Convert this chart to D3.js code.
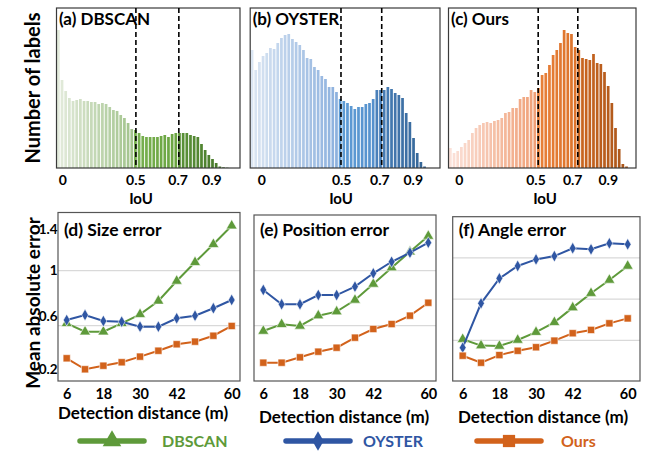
<!DOCTYPE html>
<html><head><meta charset="utf-8">
<script src="https://cdn.jsdelivr.net/npm/d3@7"></script>
<style>
body{margin:0;background:#fff}
svg{display:block}
text{font-family:Lato,"Open Sans",sans-serif;font-weight:bold;fill:#000}
</style>
</head><body>
<svg id="chart" width="652" height="453"></svg>
<script>
// ---------------- DATA ----------------
const binCount = 50;
const countsDBSCAN = [138,88,77,70,67,68,69,67,67,66,66,64,65,64,61,58,57,53,50,45,39,38,35,32,31,31,31,31,32,33,31,34,35,35,35,35,33,32,31,24,18,13,9,5,1.5,0.7,0.3,0,0,0];
const countsOYSTER = [118,98,106,112,115,120,119,125,130,133,134,129,126,123,118,110,109,101,98,92,89,81,81,76,69,67,65,62,59,61,61,64,65,69,78,78,78,81,79,75,73,70,55,46,30,15,6,1.5,0,0];
const countsOurs   = [20,15,17,21,25,28,35,40,43,45,46,45,47,48,50,55,56,60,60,69,71,71,78,76,80,93,95,103,113,118,125,138,135,134,121,118,110,109,108,114,105,104,96,82,65,40,19,4,1.5,0];
const iouTickLabels = ["0","0.5","0.7","0.9"];
// tick label and threshold positions, in bin units
const iouTickBinsA = [1.6,21.5,33.0,42.2];
const iouTickBinsB = [3.0,24.8,35.2,44.3];
const iouTickBinsC = [2.8,23.7,33.7,43.4];
const thresholdBinsA = [21.5,33.2];
const thresholdBinsB = [24.6,35.7];
const thresholdBinsC = [24.3,35.1];

const distances = [6,12,18,24,30,36,42,48,54,60];
const distanceTicks = [6,18,30,42,60];
const sizeDBSCAN = [0.617,0.556,0.556,0.617,0.683,0.780,0.925,1.061,1.192,1.327];
const sizeOYSTER = [0.641,0.678,0.634,0.629,0.593,0.593,0.654,0.673,0.727,0.787];
const sizeOurs   = [0.363,0.283,0.309,0.334,0.375,0.418,0.465,0.484,0.527,0.598];
const posDBSCAN  = [0.561,0.610,0.598,0.673,0.702,0.787,0.903,1.022,1.138,1.252];
const posOYSTER  = [0.860,0.756,0.756,0.823,0.823,0.884,0.981,1.065,1.131,1.204];
const posOurs    = [0.331,0.331,0.370,0.411,0.440,0.513,0.576,0.612,0.673,0.767];
const angleDBSCAN = [2.06,1.75,1.73,2.02,2.40,2.88,3.59,4.29,4.93,5.61];
const angleOYSTER = [1.65,3.80,5.01,5.61,5.93,6.09,6.47,6.42,6.71,6.66];
const angleOurs   = [1.26,0.92,1.29,1.50,1.67,1.99,2.35,2.51,2.83,3.07];
const maeTicks = [0.2,0.6,1,1.4];
const maeGrid = [0.6,1];
const angleGrid = [2,4,6];
const methods = ["DBSCAN","OYSTER","Ours"];

// ---------------- DRAW ----------------
const svg = d3.select("#chart");
svg.append("rect").attr("width",652).attr("height",453).attr("fill","#fff");

const colGreen = "#5e9a3a", colBlue = "#2f56a3", colOrange = "#d2621b";
const FONT = "Lato,'Open Sans',sans-serif";

function histPanel(cfg){
  const g = svg.append("g");
  const pitch = 3.67;
  const x = d3.scaleLinear().domain([0,binCount]).range([cfg.left, cfg.left + binCount*pitch]);
  const y = d3.scaleLinear().domain([0,160]).range([168,8]);
  const color = i => i < cfg.b1 ? d3.interpolateRgb(cfg.c[0],cfg.c[1])(i/(cfg.b1-1))
                  : i < cfg.b2 ? d3.interpolateRgb(cfg.c[2],cfg.c[3])((i-cfg.b1)/(cfg.b2-cfg.b1))
                  : d3.interpolateRgb(cfg.c[4],cfg.c[5])((i-cfg.b2)/(binCount-cfg.b2));
  g.selectAll("rect.bar").data(cfg.data).join("rect").attr("class","bar")
    .attr("x",(d,i)=>x(i)).attr("width",pitch*0.74)
    .attr("y",d=>y(d)).attr("height",d=>y(0)-y(d))
    .attr("fill",(d,i)=>color(i));
  g.append("rect").attr("x",cfg.left-0.5).attr("y",y(160)).attr("width",cfg.right-cfg.left+0.5)
    .attr("height",y(0)-y(160)).attr("fill","none").attr("stroke","#3a3a3a").attr("stroke-width",1.2);
  g.selectAll("line.th").data(cfg.th).join("line").attr("class","th")
    .attr("x1",d=>x(d)).attr("x2",d=>x(d)).attr("y1",y(160)).attr("y2",y(0))
    .attr("stroke","#000").attr("stroke-width",1.6).attr("stroke-dasharray","5,3");
  g.selectAll("text.tk").data(iouTickLabels).join("text").attr("class","tk")
    .attr("x",(d,i)=>x(cfg.ticks[i])).attr("y",185).attr("text-anchor","middle")
    .attr("font-size",14).text(d=>d);
  g.append("text").attr("x",cfg.labelX).attr("y",204).attr("text-anchor","middle")
    .attr("font-size",15).text("IoU");
  g.append("text").attr("x",cfg.left+2).attr("y",25).attr("font-size",17).text(cfg.title);
}

histPanel({left:57,right:240,data:countsDBSCAN,ticks:iouTickBinsA,th:thresholdBinsA,title:"(a) DBSCAN",labelX:141,
  b1:21,b2:33,c:["#e3ebdc","#a3c48d","#77b04f","#6aa440","#5b9238","#3f6c25"]});
histPanel({left:250.7,right:440,data:countsOYSTER,ticks:iouTickBinsB,th:thresholdBinsB,title:"(b) OYSTER",labelX:341,
  b1:24,b2:34,c:["#dbe6f3","#8db1de","#5f9dd6","#5590cc","#4a80ba","#2f5e8d"]});
histPanel({left:449,right:636,data:countsOurs,ticks:iouTickBinsC,th:thresholdBinsC,title:"(c) Ours",labelX:545,
  b1:24,b2:35,c:["#fbe2da","#f0a077","#e8803a","#dc7229","#cb661f","#a4531a"]});

function linePanel(cfg){
  const g = svg.append("g");
  const x = d3.scaleLinear().domain([6,60]).range([cfg.x0, cfg.x0+165]);
  const y = cfg.y;
  g.selectAll("line.gr").data(cfg.grid).join("line").attr("class","gr")
    .attr("x1",cfg.left).attr("x2",cfg.right).attr("y1",d=>y(d)).attr("y2",d=>y(d))
    .attr("stroke","#d9d9d9").attr("stroke-width",1.2);
  g.append("rect").attr("x",cfg.left).attr("y",cfg.top).attr("width",cfg.right-cfg.left)
    .attr("height",381-cfg.top).attr("fill","none").attr("stroke","#555").attr("stroke-width",1.2);
  const series = [
    {vals:cfg.s[0],col:colGreen,sym:d3.symbolTriangle,size:52},
    {vals:cfg.s[1],col:colBlue,sym:d3.symbolDiamond,size:40},
    {vals:cfg.s[2],col:colOrange,sym:d3.symbolSquare,size:52}
  ];
  const line = d3.line().x((d,i)=>x(distances[i])).y(d=>y(d));
  series.forEach(s=>{
    g.append("path").attr("d",line(s.vals)).attr("fill","none").attr("stroke",s.col).attr("stroke-width",2);
    g.selectAll(null).data(s.vals).join("path")
      .attr("transform",(d,i)=>`translate(${x(distances[i])},${y(d)})`)
      .attr("d",d3.symbol().type(s.sym).size(s.size)).attr("fill",s.col)
      .attr("stroke","#fff").attr("stroke-width",0.6);
  });
  const ax = g.append("g").attr("transform","translate(0,381)")
    .call(d3.axisBottom(x).tickValues(distanceTicks).tickSize(0).tickPadding(8).tickFormat(d3.format("d")));
  ax.select(".domain").remove();
  ax.selectAll("text").attr("font-size",14.5).style("font-family",FONT).style("font-weight","bold").attr("fill","#000");
  g.append("text").attr("x",cfg.left+6).attr("y",236).attr("font-size",17.5).text(cfg.title);
  g.append("text").attr("x",cfg.labelX).attr("y",cfg.labelY).attr("text-anchor","middle").attr("font-size",17).text("Detection distance (m)");
}

const yMae = d3.scaleLinear().domain([0.2,1.4]).range([380.7,215.7]);
const yAngle = d3.scaleLinear().domain([0,8]).range([381.7,216.7]);

linePanel({left:58,right:240,top:212.5,x0:66.7,y:yMae,grid:maeGrid,s:[sizeDBSCAN,sizeOYSTER,sizeOurs],title:"(d) Size error",labelX:143,labelY:419});
linePanel({left:254,right:436,top:215,x0:263.3,y:yMae,grid:maeGrid,s:[posDBSCAN,posOYSTER,posOurs],title:"(e) Position error",labelX:344,labelY:423});
linePanel({left:452.7,right:640,top:216.7,x0:462.7,y:yAngle,grid:angleGrid,s:[angleDBSCAN,angleOYSTER,angleOurs],title:"(f) Angle error",labelX:543,labelY:423});

// left tick labels for MAE (placed as in the figure's label column)
const yMaeLabels = d3.scaleLinear().domain([0.2,0.6,1,1.4]).range([369,316,270,229]);
const ya = svg.append("g").attr("transform","translate(57.5,0)")
  .call(d3.axisLeft(yMaeLabels).tickValues(maeTicks).tickSize(0).tickPadding(0).tickFormat(d=>String(d)));
ya.select(".domain").remove();
ya.selectAll("text").attr("font-size",13.5).style("font-family",FONT).style("font-weight","bold").attr("fill","#000");

// axis titles
svg.append("text").attr("transform","translate(40,88) rotate(-90)").attr("text-anchor","middle").attr("font-size",20).text("Number of labels");
svg.append("text").attr("transform","translate(40,303) rotate(-90)").attr("text-anchor","middle").attr("font-size",19).text("Mean absolute error");

// legend
const legendItems = [
  {name:methods[0],col:colGreen,sym:d3.symbolTriangle,x:80,tx:162},
  {name:methods[1],col:colBlue,sym:d3.symbolDiamond,x:286,tx:363},
  {name:methods[2],col:colOrange,sym:d3.symbolSquare,x:477,tx:561}
];
const lg = svg.append("g");
legendItems.forEach(it=>{
  lg.append("line").attr("x1",it.x).attr("x2",it.x+64).attr("y1",441).attr("y2",441)
    .attr("stroke",it.col).attr("stroke-width",5.5).attr("stroke-linecap","round");
  lg.append("path").attr("transform",`translate(${it.x+32},441)`)
    .attr("d",d3.symbol().type(it.sym).size(it.sym===d3.symbolDiamond?110:150)).attr("fill",it.col);
  lg.append("text").attr("x",it.tx).attr("y",447).attr("font-size",16).style("fill",it.col).text(it.name);
});
</script>
</body></html>
